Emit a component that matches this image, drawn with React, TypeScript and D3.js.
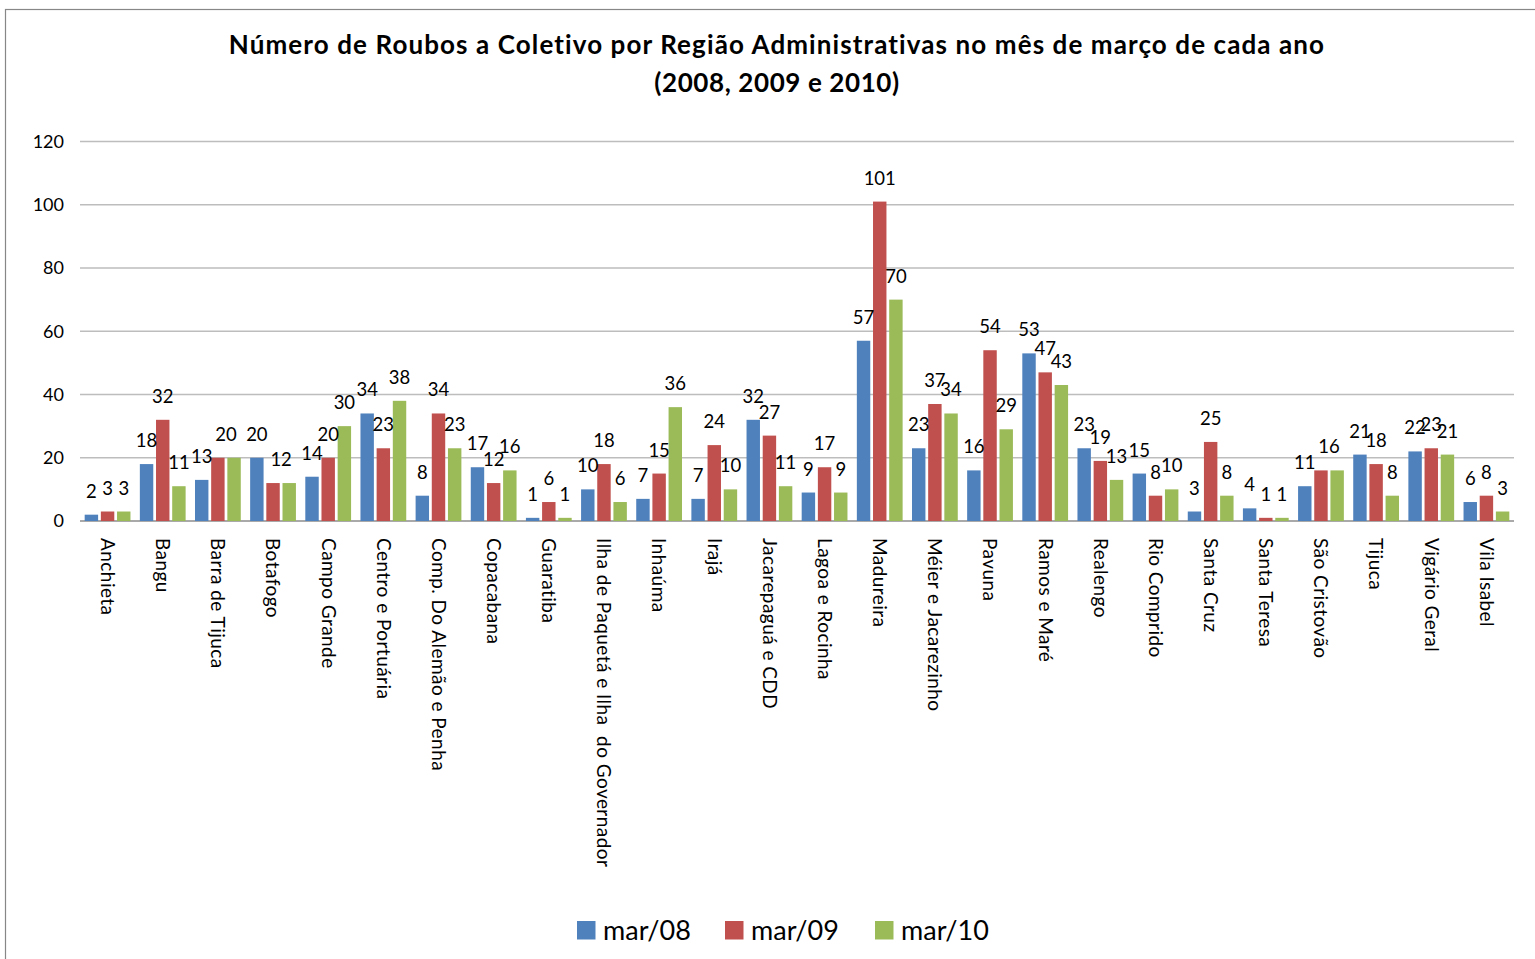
import React from 'react';
import * as d3 from 'd3';

const categories = [
  'Anchieta', 'Bangu', 'Barra de Tijuca', 'Botafogo', 'Campo Grande', 'Centro e Portuária',
  'Comp. Do Alemão e Penha', 'Copacabana', 'Guaratiba', 'Ilha de Paquetá e Ilha  do Governador',
  'Inhaúma', 'Irajá', 'Jacarepaguá e CDD', 'Lagoa e Rocinha', 'Madureira', 'Méier e Jacarezinho',
  'Pavuna', 'Ramos e Maré', 'Realengo', 'Rio Comprido', 'Santa Cruz', 'Santa Teresa',
  'São Cristovão', 'Tijuca', 'Vigário Geral', 'Vila Isabel',
];
const mar08 = [2, 18, 13, 20, 14, 34, 8, 17, 1, 10, 7, 7, 32, 9, 57, 23, 16, 53, 23, 15, 3, 4, 11, 21, 22, 6];
const mar09 = [3, 32, 20, 12, 20, 23, 34, 12, 6, 18, 15, 24, 27, 17, 101, 37, 54, 47, 19, 8, 25, 1, 16, 18, 23, 8];
const mar10 = [3, 11, 20, 12, 30, 38, 23, 16, 1, 6, 36, 10, 11, 9, 70, 34, 29, 43, 13, 10, 8, 1, 16, 8, 21, 3];
const seriesNames = ['mar/08', 'mar/09', 'mar/10'];
const yTicks = [0, 20, 40, 60, 80, 100, 120];

const colors = ['#4F81BD', '#C0504D', '#9BBB59'];
const font = 'Lato, "Open Sans", sans-serif';

const W = 1535;
const H = 959;
const plot = { left: 80, right: 1514, top: 141.5, bottom: 521 };

export default function App() {
  const series = [mar08, mar09, mar10];

  const x = d3.scaleBand<string>()
    .domain(categories)
    .range([plot.left, plot.right])
    .paddingInner(0.17)
    .paddingOuter(0.085);
  const xs = d3.scaleBand<string>()
    .domain(seriesNames)
    .range([0, x.bandwidth()])
    .paddingInner(0.17);
  const y = d3.scaleLinear().domain([0, 120]).range([plot.bottom, plot.top]);

  const legendX = [577, 725, 875];

  // value labels: two equal two-digit labels side by side collapse into one, between the bars
  const labels: { key: string; x: number; y: number; v: number }[] = [];
  categories.forEach((c, i) => {
    let k = 0;
    while (k < series.length) {
      const v = series[k][i];
      const cx = x(c)! + xs(seriesNames[k])! + xs.bandwidth() / 2;
      const next = k + 1 < series.length ? series[k + 1][i] : null;
      if (next === v && v >= 10) {
        const cx2 = x(c)! + xs(seriesNames[k + 1])! + xs.bandwidth() / 2;
        labels.push({ key: `${c}-${k}`, x: (cx + cx2) / 2, y: y(v) - 17, v });
        k += 2;
      } else {
        labels.push({ key: `${c}-${k}`, x: cx, y: y(v) - 17, v });
        k += 1;
      }
    }
  });

  return (
    <svg width={W} height={H} style={{ position: 'absolute', left: 0, top: 0, display: 'block', background: '#fff' }}>
      {/* chart frame (cut by the picture edge) */}
      <rect x={5.5} y={9.5} width={1600} height={1000} fill="#fff" stroke="#878787" strokeWidth={1.2} />

      <text x={777} y={54} textAnchor="middle" fontFamily={font} fontWeight="bold" fontSize={26}
        letterSpacing={1.1} fill="#000">
        Número de Roubos a Coletivo por Região Administrativas no mês de março de cada ano
      </text>
      <text x={777} y={92} textAnchor="middle" fontFamily={font} fontWeight="bold" fontSize={26}
        letterSpacing={0.6} fill="#000">
        (2008, 2009 e 2010)
      </text>

      {/* grid */}
      {yTicks.map(t => (
        <g key={t}>
          <line x1={plot.left} x2={plot.right} y1={y(t)} y2={y(t)}
            stroke={t === 0 ? '#8c8c8c' : '#bdbdbd'} strokeWidth={1.3} />
          <text x={64} y={y(t)} dy="0.36em" textAnchor="end" fontFamily={font} fontSize={18} fill="#000">{t}</text>
        </g>
      ))}

      {/* bars */}
      {categories.map((c, i) => (
        <g key={c} transform={`translate(${x(c)},0)`}>
          {series.map((s, k) => (
            <rect key={k} x={xs(seriesNames[k])} y={y(s[i])} width={xs.bandwidth()}
              height={y(0) - y(s[i])} fill={colors[k]} />
          ))}
        </g>
      ))}

      {labels.map(l => (
        <text key={l.key} x={l.x} y={l.y} textAnchor="middle" fontFamily={font} fontSize={18.5} fill="#000">{l.v}</text>
      ))}

      {/* category labels */}
      {categories.map(c => (
        <text key={c} transform={`translate(${x(c)! + x.bandwidth() / 2},538) rotate(90)`}
          dy="0.35em" fontFamily={font} fontSize={19} letterSpacing={0.45} fill="#000" style={{ whiteSpace: 'pre' }}>
          {c}
        </text>
      ))}

      {/* legend */}
      {seriesNames.map((n, k) => (
        <g key={n}>
          <rect x={legendX[k]} y={921} width={18.5} height={18.5} fill={colors[k]} />
          <text x={legendX[k] + 26} y={930} dy="0.36em" fontFamily={font} fontSize={27} fill="#000">{n}</text>
        </g>
      ))}
    </svg>
  );
}
